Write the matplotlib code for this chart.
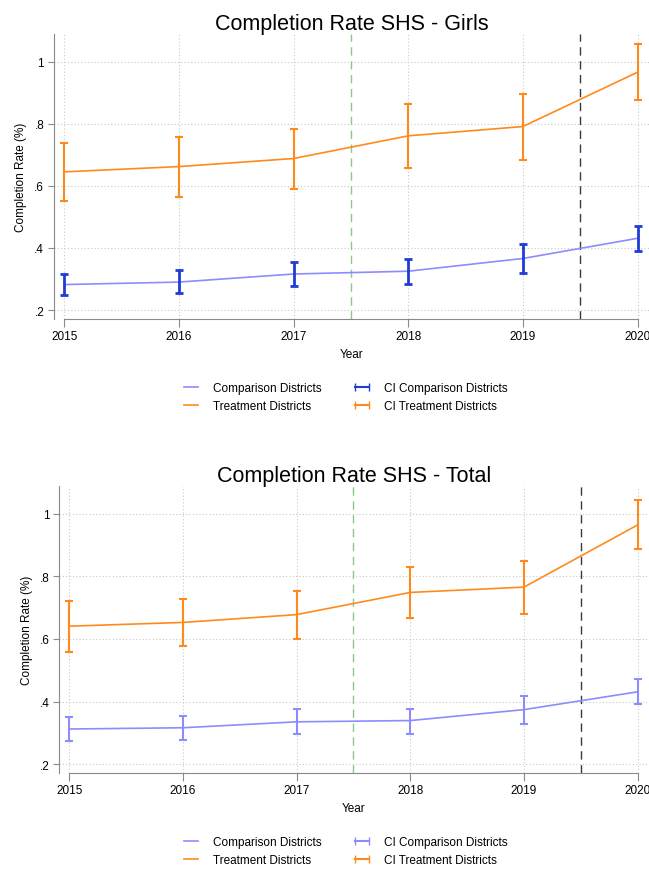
import matplotlib
matplotlib.use("Agg")
import matplotlib.pyplot as plt
from matplotlib.lines import Line2D

plt.rcParams['font.family'] = ['Liberation Sans', 'DejaVu Sans']

years = [2015, 2016, 2017, 2018, 2019, 2020]
yticks = [0.2, 0.4, 0.6, 0.8, 1.0]
ytick_labels = ['.2', '.4', '.6', '.8', '1']

# Girls
girls_comp = [0.282, 0.290, 0.316, 0.325, 0.366, 0.431]
girls_comp_lo = [0.247, 0.255, 0.277, 0.284, 0.319, 0.390]
girls_comp_hi = [0.316, 0.328, 0.356, 0.365, 0.414, 0.471]
girls_treat = [0.645, 0.662, 0.688, 0.761, 0.791, 0.966]
girls_treat_lo = [0.551, 0.565, 0.590, 0.657, 0.683, 0.877]
girls_treat_hi = [0.737, 0.758, 0.784, 0.862, 0.897, 1.057]

# Total
total_comp = [0.312, 0.316, 0.335, 0.339, 0.374, 0.431]
total_comp_lo = [0.274, 0.278, 0.295, 0.297, 0.328, 0.392]
total_comp_hi = [0.350, 0.355, 0.376, 0.377, 0.419, 0.472]
total_treat = [0.641, 0.653, 0.678, 0.749, 0.766, 0.965]
total_treat_lo = [0.558, 0.579, 0.600, 0.668, 0.681, 0.887]
total_treat_hi = [0.722, 0.727, 0.754, 0.829, 0.851, 1.044]

c_comp = '#8c8cff'
c_treat = '#ff8a1c'
c_grid = '#c8c8c8'
c_axis = '#8a8a8a'


def err(vals, lo, hi):
    return [[v - l for v, l in zip(vals, lo)], [h - v for v, h in zip(vals, hi)]]


def draw_panel(ax, title, comp, comp_lo, comp_hi, treat, treat_lo, treat_hi, ci_comp_color, ci_comp_lw):
    ax.set_xlim(years[0] - 0.09, years[-1] + 0.1)
    ax.set_ylim(0.17, 1.09)
    ax.set_xticks(years)
    ax.set_yticks(yticks)
    ax.set_yticklabels(ytick_labels)
    ax.grid(True, linestyle=(0, (1, 2)), color=c_grid, linewidth=0.8)
    ax.set_axisbelow(True)

    ax.axvline(2017.5, color='#8cc88c', linestyle=(0, (6, 4)), linewidth=1.0, zorder=1)
    ax.axvline(2019.5, color='#3a3a3a', linestyle=(0, (6, 4)), linewidth=1.0, zorder=1)

    ax.plot(years, comp, color=c_comp, linewidth=1.2, zorder=3)
    ax.plot(years, treat, color=c_treat, linewidth=1.2, zorder=3)
    ax.errorbar(years, comp, yerr=err(comp, comp_lo, comp_hi), fmt='none',
                ecolor=ci_comp_color, elinewidth=ci_comp_lw, capsize=3, capthick=ci_comp_lw, zorder=4)
    ax.errorbar(years, treat, yerr=err(treat, treat_lo, treat_hi), fmt='none',
                ecolor=c_treat, elinewidth=1.5, capsize=3, capthick=1.5, zorder=4)

    for side in ['top', 'right']:
        ax.spines[side].set_visible(False)
    ax.spines['left'].set_color(c_axis)
    ax.spines['bottom'].set_color(c_axis)
    ax.spines['bottom'].set_bounds(years[0], years[-1])
    ax.tick_params(axis='both', colors=c_axis, labelcolor='black', labelsize=8.5, width=0.8)
    ax.tick_params(axis='x', length=6, pad=2)
    ax.tick_params(axis='y', length=4, pad=3)

    ax.set_title(title, fontsize=15.5, pad=3)
    ax.set_xlabel('Year', fontsize=8.5, labelpad=4)
    ax.set_ylabel('Completion Rate (%)', fontsize=8.5, labelpad=5)


fig = plt.figure(figsize=(6.49, 8.70), dpi=100)
ax1 = fig.add_axes([0.083, 0.6318, 0.917, 0.3283])
ax2 = fig.add_axes([0.091, 0.1099, 0.909, 0.3305])

draw_panel(ax1, 'Completion Rate SHS - Girls', girls_comp, girls_comp_lo, girls_comp_hi,
           girls_treat, girls_treat_lo, girls_treat_hi, '#1f3cd6', 2.0)
draw_panel(ax2, 'Completion Rate SHS - Total', total_comp, total_comp_lo, total_comp_hi,
           total_treat, total_treat_lo, total_treat_hi, c_comp, 1.5)


def add_legend(y, ci_color):
    handles = [
        Line2D([], [], color=c_comp, linewidth=1.2),
        Line2D([], [], color=c_treat, linewidth=1.2),
        Line2D([], [], color=ci_color, linewidth=1.5, marker='|', markersize=6),
        Line2D([], [], color=c_treat, linewidth=1.5, marker='|', markersize=6),
    ]
    labels = ['Comparison Districts', 'Treatment Districts',
              'CI Comparison Districts', 'CI Treatment Districts']
    fig.legend(handles, labels, loc='center', bbox_to_anchor=(0.53, y), ncol=2,
               frameon=False, fontsize=8.5, numpoints=2, handlelength=1.8,
               columnspacing=2.5, labelspacing=0.45, handletextpad=1.0)


add_legend(1 - 398 / 870, '#1f3cd6')
add_legend(1 - 852 / 870, c_comp)

fig.savefig('out.png', dpi=100)
